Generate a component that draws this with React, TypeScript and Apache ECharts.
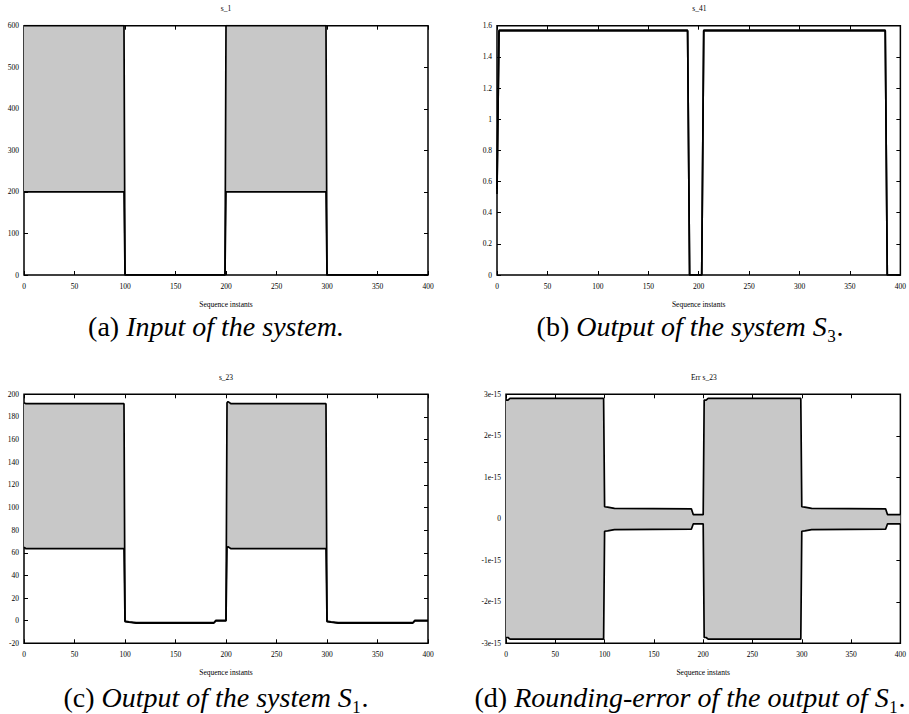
import React, { useEffect, useRef } from "react";
import * as echarts from "echarts";

const FONT = "Liberation Serif";

// (a) s_1 : input interval
const xA = [0, 99, 100, 199, 200, 299, 300, 400];
const loA = [200, 200, 0, 0, 200, 200, 0, 0];
const hiA = [600, 600, 0, 0, 600, 600, 0, 0];

// (b) s_41 : output of S3
const xB = [0, 2, 189, 191, 203, 205, 385, 387, 400];
const loB = [0.52, 1.566, 1.566, 0, 0, 1.566, 1.566, 0, 0];
const hiB = [0.55, 1.571, 1.571, 0, 0, 1.571, 1.571, 0, 0];

// (c) s_23 : output of S1
const xC = [0, 2, 99, 100, 104, 111, 188, 190, 200, 201, 202, 205, 299, 300, 304, 311, 385, 387, 400];
const loC = [64.8, 63.6, 63.6, -0.8, -1.4, -2.1, -2.1, -0.2, -0.2, 64.5, 65.3, 63.6, 63.6, -0.8, -1.4, -2.1, -2.1, -0.2, -0.2];
const hiC = [192.6, 191.7, 191.7, -0.4, -1.0, -1.8, -1.8, 0.2, 0.2, 192.5, 193.5, 191.7, 191.7, -0.4, -1.0, -1.8, -1.8, 0.2, 0.2];

// (d) Err s_23 : rounding error of the output of S1
const xD = [0, 2, 4, 99, 100, 103, 110, 188, 190, 200, 201, 203, 205, 299, 300, 303, 310, 385, 387, 400];
const loD = [-2.86e-15, -2.86e-15, -2.9e-15, -2.9e-15, -0.3e-15, -0.29e-15, -0.26e-15, -0.25e-15, -0.12e-15, -0.12e-15,
  -2.86e-15, -2.86e-15, -2.9e-15, -2.9e-15, -0.3e-15, -0.29e-15, -0.26e-15, -0.25e-15, -0.12e-15, -0.12e-15];
const hiD = [2.86e-15, 2.86e-15, 2.9e-15, 2.9e-15, 0.29e-15, 0.28e-15, 0.25e-15, 0.24e-15, 0.1e-15, 0.1e-15,
  2.86e-15, 2.86e-15, 2.9e-15, 2.9e-15, 0.29e-15, 0.28e-15, 0.25e-15, 0.24e-15, 0.1e-15, 0.1e-15];

const titles = ["s_1", "s_41", "s_23", "Err s_23"];
const xName = "Sequence instants";
const xRange = { min: 0, max: 400, interval: 50 };
const yRanges = [
  { min: 0, max: 600, interval: 100 },
  { min: 0, max: 1.6, interval: 0.2 },
  { min: -20, max: 200, interval: 20 },
  { min: -3e-15, max: 3e-15, interval: 1e-15 },
];
const captions = [
  ["(a) ", "Input of the system.", ""],
  ["(b) ", "Output of the system S", "₃."],
  ["(c) ", "Output of the system S", "₁."],
  ["(d) ", "Rounding-error of the output of S", "₁."],
];
const bands = [
  { x: xA, lo: loA, hi: hiA },
  { x: xB, lo: loB, hi: hiB },
  { x: xC, lo: loC, hi: hiC },
  { x: xD, lo: loD, hi: hiD },
];

// layout
const grids = [
  { left: 24, top: 25.7, width: 404, height: 249.3 },
  { left: 497, top: 25.7, width: 404.7, height: 249.3 },
  { left: 24, top: 394.3, width: 404, height: 249 },
  { left: 506, top: 394.3, width: 395.7, height: 249 },
];
const captionPos = [
  { x: 216, y: 326 },
  { x: 690, y: 326 },
  { x: 216, y: 697 },
  { x: 690, y: 697 },
];

const fmtErr = (v: number) => (v === 0 ? "0" : `${Math.round(v * 1e15)}e-15`);

export default function App() {
  const ref = useRef<HTMLDivElement>(null);
  useEffect(() => {
    if (!ref.current) return;
    const chart = echarts.init(ref.current, undefined, { renderer: "svg" });
    const tick = { inside: true, length: 4, lineStyle: { color: "#000", width: 1 } };
    const labelStyle = { color: "#000", fontFamily: FONT, fontSize: 7.5 };
    const noLine = { show: false, onZero: false };
    const xAxis: any[] = [];
    const yAxis: any[] = [];
    const series: any[] = [];
    const graphic: any[] = [];
    grids.forEach((g, i) => {
      xAxis.push({
        type: "value", gridIndex: i, position: "bottom", ...xRange,
        axisLine: noLine, axisTick: tick, splitLine: { show: false },
        axisLabel: { ...labelStyle, margin: 7 },
        name: xName, nameLocation: "middle", nameGap: 25,
        nameTextStyle: { ...labelStyle },
      });
      xAxis.push({
        type: "value", gridIndex: i, position: "top", ...xRange,
        axisLine: noLine, axisTick: tick, splitLine: { show: false },
        axisLabel: { show: false },
      });
      yAxis.push({
        type: "value", gridIndex: i, position: "left", ...yRanges[i],
        axisLine: noLine, axisTick: tick, splitLine: { show: false },
        axisLabel: { ...labelStyle, margin: 5, formatter: i === 3 ? fmtErr : undefined },
      });
      yAxis.push({
        type: "value", gridIndex: i, position: "right", ...yRanges[i],
        axisLine: noLine, axisTick: tick, splitLine: { show: false },
        axisLabel: { show: false },
      });
      const b = bands[i];
      series.push({
        type: "custom", xAxisIndex: 2 * i, yAxisIndex: 2 * i, silent: true, z: 1,
        data: b.x.map((xv, k) => [xv, b.lo[k], b.hi[k]]),
        encode: { x: 0, y: [1, 2] },
        renderItem: (params: any, api: any) => {
          if (params.dataIndexInside !== 0) return null;
          const n = params.dataInsideLength;
          const top: number[][] = [];
          const bot: number[][] = [];
          for (let k = 0; k < n; k++) {
            const xv = api.value(0, k);
            bot.push(api.coord([xv, api.value(1, k)]));
            top.push(api.coord([xv, api.value(2, k)]));
          }
          return {
            type: "polygon",
            shape: { points: top.concat(bot.reverse()) },
            style: { fill: "#c8c8c8", stroke: "none" },
          };
        },
      });
      [b.lo, b.hi].forEach((arr) => {
        series.push({
          type: "line", xAxisIndex: 2 * i, yAxisIndex: 2 * i, silent: true, z: 3,
          data: b.x.map((xv, k) => [xv, arr[k]]),
          showSymbol: false, symbol: "none",
          lineStyle: { color: "#000", width: 1.7 },
        });
      });
      graphic.push({
        type: "text", x: g.left + g.width / 2, y: g.top - 17,
        style: { text: titles[i], fill: "#000", fontFamily: FONT, fontSize: 7.5, align: "center", verticalAlign: "middle" },
      });
      const c = captions[i];
      graphic.push({
        type: "text", x: captionPos[i].x, y: captionPos[i].y,
        style: {
          text: `{r|${c[0]}}{i|${c[1]}}{s|${c[2]}}`,
          align: "center", verticalAlign: "middle",
          rich: {
            r: { fontFamily: FONT, fontSize: 28, fill: "#000", color: "#000" },
            i: { fontFamily: FONT, fontSize: 28, fontStyle: "italic", fill: "#000", color: "#000" },
            s: { fontFamily: FONT, fontSize: 28, fill: "#000", color: "#000" },
          },
        },
      });
    });
    chart.setOption({
      animation: false,
      backgroundColor: "#fff",
      grid: grids.map((g) => ({ ...g, show: true, borderColor: "#000", borderWidth: 1.5, backgroundColor: "transparent" })),
      xAxis, yAxis, series, graphic,
    });
    return () => chart.dispose();
  }, []);
  return (
    <div
      ref={ref}
      style={{ position: "absolute", left: 0, top: 0, width: 909, height: 714, background: "#fff" }}
    />
  );
}
